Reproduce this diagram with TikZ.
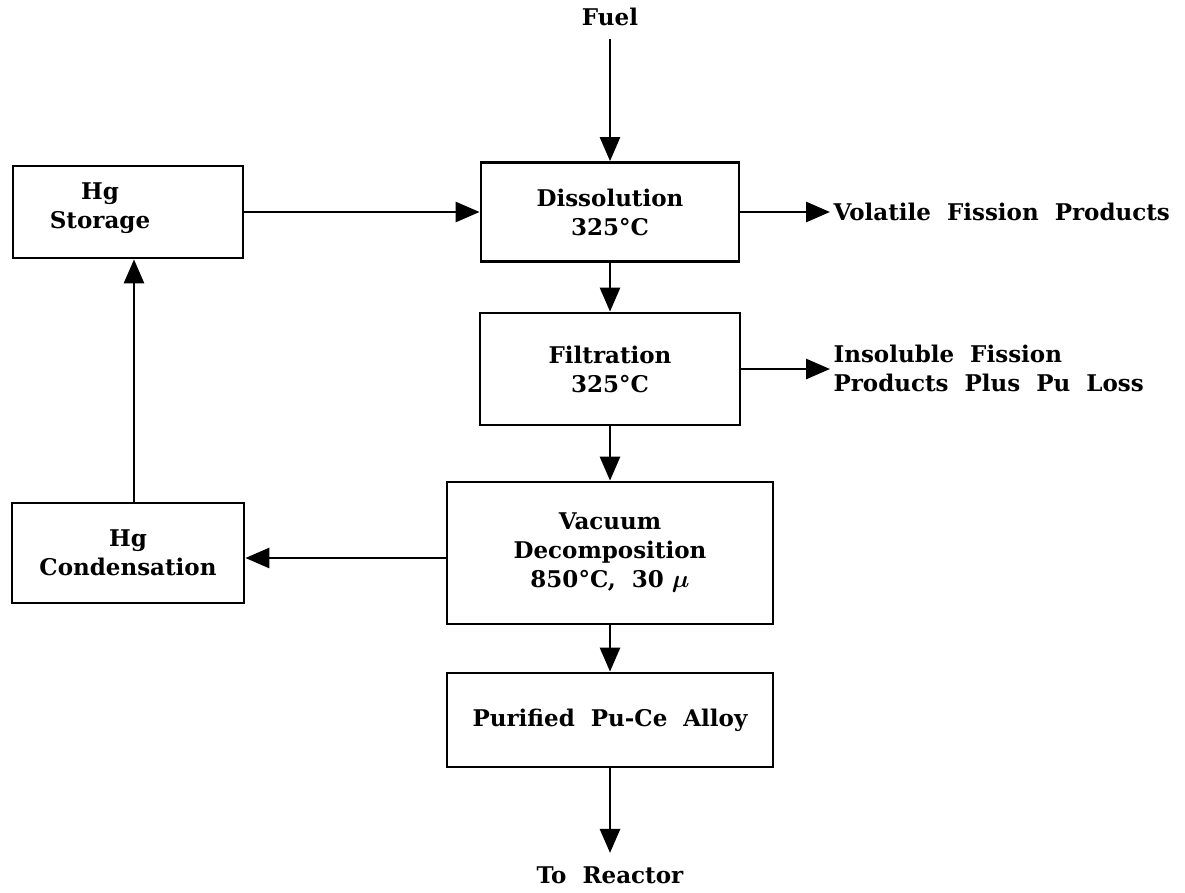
\documentclass[tikz,border=0pt]{standalone}
\usepackage{bm}
\usepackage{fontspec}
\setmainfont{DejaVu Serif}
\usetikzlibrary{arrows.meta}

\begin{document}
\begin{tikzpicture}[
        x=1pt, y=-1pt,
        box/.style={draw, line width=2.8pt, inner sep=0pt},
        lab/.style={font=\fontsize{23}{29}\selectfont\bfseries, align=center},
        arr/.style={line width=2.8pt, -{Triangle[length=24pt, width=20pt]}}
    ]
    \useasboundingbox (0,0) rectangle (1185,892);

    % coordinates
    \coordinate (st)  at (128,212);
    \coordinate (dis) at (610,212);
    \coordinate (fil) at (610,369);
    \coordinate (vac) at (610,553);
    \coordinate (con) at (128,553);
    \coordinate (pur) at (610,720);

    % boxes
    \node[box, minimum width=230pt, minimum height=92pt]       (storage)      at (st)  {};
    \node[box, lab, minimum width=258pt, minimum height=99pt]  (dissolution)  at (dis) {Dissolution\\325°C};
    \node[box, lab, minimum width=260pt, minimum height=112pt] (filtration)   at (fil) {Filtration\\325°C};
    \node[box, lab, minimum width=326pt, minimum height=142pt] (vacuum)       at (vac) {Vacuum\\Decomposition\\850°C,\ \ 30 $\bm{\mu}$};
    \node[box, lab, minimum width=232pt, minimum height=100pt] (condensation) at (con) {Hg\\Condensation};
    \node[box, lab, minimum width=326pt, minimum height=94pt]  (purified)     at (pur) {Purified\ \ Pu-Ce\ \ Alloy};

    % labels
    \node[lab] (storagetxt) at (100,208) {Hg\\Storage};
    \node[lab] (fuel)       at (610,17)  {Fuel};
    \node[lab] (reactor)    at (610,875) {To\ \ Reactor};
    \node[lab, anchor=west]             (volatile)  at (830,212) {Volatile\ \ Fission\ \ Products};
    \node[lab, anchor=west, align=left] (insoluble) at (830,368) {Insoluble\ \ Fission\\Products\ \ Plus\ \ Pu\ \ Loss};

    % arrows
    \draw[arr, shorten <=10pt] (fuel.south) -- (dissolution.north);
    \draw[arr] (storage.east) -- (dissolution.west);
    \draw[arr] (dissolution.east) -- (volatile.west);
    \draw[arr] (dissolution.south) -- (filtration.north);
    \draw[arr] (filtration.east) -- (filtration.east -| insoluble.west);
    \draw[arr] (filtration.south) -- (vacuum.north);
    \draw[arr] ([yshift=-5pt]vacuum.west) -- ([yshift=-5pt]condensation.east);
    \draw[arr] ([xshift=6pt]condensation.north) -- ([xshift=6pt]storage.south);
    \draw[arr] (vacuum.south) -- (purified.north);
    \draw[arr, shorten >=10pt] (purified.south) -- (reactor.north);
\end{tikzpicture}
\end{document}
